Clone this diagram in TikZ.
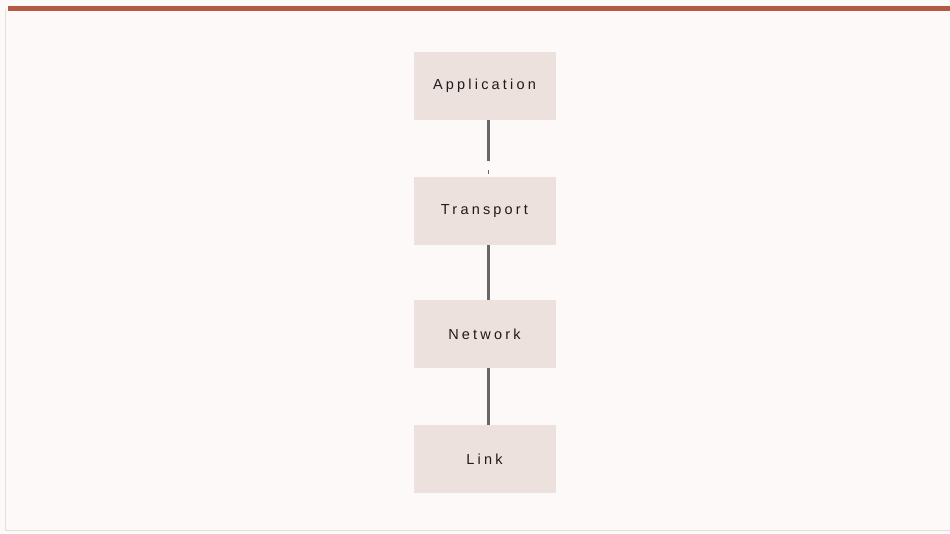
\documentclass[tikz,border=0pt]{standalone}
\usepackage{fontspec}
\setmainfont{Liberation Sans}
\newfontfamily\spaced[LetterSpace=22]{Liberation Sans}
\definecolor{bgc}{HTML}{FDF9F8}
\definecolor{boxc}{HTML}{EDE1DD}
\definecolor{topc}{HTML}{B35A42}
\definecolor{framec}{HTML}{E4DEDC}
\definecolor{linec}{HTML}{6A6566}
\definecolor{textc}{HTML}{1E1A1A}
\begin{document}
\begin{tikzpicture}[x=1pt,y=-1pt,
  layer/.style={fill=boxc, draw=none, minimum width=142pt, minimum height=68pt,
    inner sep=0pt, font=\spaced\fontsize{14.5pt}{16pt}\selectfont, text=textc},
  conn/.style={draw=linec, line width=3pt}]
\useasboundingbox (0,0) rectangle (950,533);
\fill[bgc] (0,0) rectangle (950,533);
\draw[framec, line width=1pt] (5,9) -- (5,530) -- (950,530);
\fill[topc] (8,6) rectangle (950,11);
\node[layer] (app) at (484.5,86) {Application};
\node[layer] (tra) at (484.5,211) {Transport};
\node[layer] (net) at (484.5,334) {Network};
\node[layer] (lnk) at (484.5,459) {Link};
\coordinate (gapa) at (488.5,161);
\coordinate (tickA) at (488.5,169.5);
\coordinate (tickB) at (488.5,174);
\draw[conn] (app.south -| gapa) -- (gapa);
\draw[linec, line width=1.5pt] (tickA) -- (tickB);
\draw[conn] (tra.south -| gapa) -- (net.north -| gapa);
\draw[conn] (net.south -| gapa) -- (lnk.north -| gapa);
\end{tikzpicture}
\end{document}
